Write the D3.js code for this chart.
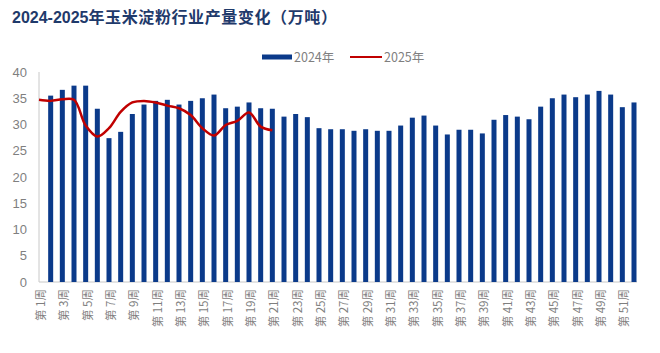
<!DOCTYPE html>
<html>
<head>
<meta charset="utf-8">
<script src="https://cdn.jsdelivr.net/npm/d3@7"></script>
<style>
  body { margin: 0; background: #fff; }
  svg { display: block; font-family: "Microsoft YaHei", "Noto Sans CJK SC", sans-serif; }
</style>
</head>
<body>
<svg width="660" height="353"></svg>
<script>
// weeks 1..52
var weeks = d3.range(1, 53);

// 2024 weekly output (10k t); week 1 has no bar
var y2024 = [null, 35.5, 36.6, 37.4, 37.4, 33.0, 27.4, 28.6, 32.0, 33.8,
  34.5, 34.7, 33.8, 34.5, 35.0, 35.7, 33.1, 33.4, 34.2, 33.1,
  33.0, 31.5, 32.0, 31.4, 29.3, 29.1, 29.1, 28.8, 29.1, 28.8,
  28.8, 29.8, 31.3, 31.7, 29.8, 28.1, 29.0, 29.0, 28.3, 30.9,
  31.8, 31.5, 31.0, 33.4, 35.0, 35.7, 35.2, 35.7, 36.4, 35.7,
  33.3, 34.2];

// 2025 weekly output, weeks 1..21
var y2025 = [34.7, 34.5, 34.8, 34.7, 29.8, 27.7, 29.3, 32.4, 34.2, 34.5,
  34.2, 33.6, 33.1, 31.8, 29.3, 27.9, 29.9, 30.7, 32.3, 29.6, 28.9];

var yTicks = [0, 5, 10, 15, 20, 25, 30, 35, 40];
var seriesNames = ['2024年', '2025年'];

var blue = '#0b3a8a';
var red = '#c00000';
var grey = '#7f7f7f';

var svg = d3.select('svg');

// title
var title = svg.append('text')
  .attr('x', 12)
  .attr('y', 23)
  .attr('fill', '#1f3a6b')
  .style('font-weight', 'bold');
title.append('tspan')
  .style('font-family', '"Liberation Sans", Arial, sans-serif')
  .style('font-size', '16px')
  .text('2024-2025');
title.append('tspan')
  .style('font-size', '16px')
  .style('letter-spacing', '0.6px')
  .text('年玉米淀粉行业产量变化（万吨）');

var x = d3.scalePoint()
  .domain(weeks)
  .range([39, 634]);

var y = d3.scaleLinear()
  .domain([0, 40])
  .range([282, 72]);

// y axis labels
svg.append('g').selectAll('text')
  .data(yTicks)
  .enter().append('text')
  .attr('x', 27)
  .attr('y', function(d) { return y(d); })
  .attr('dy', '0.35em')
  .attr('text-anchor', 'end')
  .attr('fill', grey)
  .style('font-family', '"Liberation Sans", Arial, sans-serif')
  .style('font-size', '13px')
  .text(function(d) { return d; });

// axis lines
svg.append('line')
  .attr('x1', 39).attr('x2', 39)
  .attr('y1', y(40)).attr('y2', y(0))
  .attr('stroke', '#c8c8c8');
svg.append('line')
  .attr('x1', 39).attr('x2', 637)
  .attr('y1', y(0)).attr('y2', y(0))
  .attr('stroke', '#c8c8c8');

// bars
var barW = 5;
svg.append('g').selectAll('rect')
  .data(weeks.filter(function(w) { return y2024[w - 1] != null; }))
  .enter().append('rect')
  .attr('x', function(w) { return x(w) - barW / 2; })
  .attr('width', barW)
  .attr('y', function(w) { return y(y2024[w - 1]); })
  .attr('height', function(w) { return y(0) - y(y2024[w - 1]); })
  .attr('fill', blue);

// 2025 smoothed line
var line = d3.line()
  .x(function(d, i) { return x(weeks[i]); })
  .y(function(d) { return y(d); })
  .curve(d3.curveCatmullRom.alpha(0.5));

svg.append('path')
  .datum(y2025)
  .attr('d', line)
  .attr('fill', 'none')
  .attr('stroke', red)
  .attr('stroke-width', 2.5)
  .attr('stroke-linejoin', 'round');

// x labels, odd weeks, rotated
svg.append('g').selectAll('text')
  .data(weeks.filter(function(w) { return w % 2 === 1; }))
  .enter().append('text')
  .attr('transform', function(w) { return 'translate(' + (x(w) + 1.5) + ',289) rotate(-90)'; })
  .attr('dy', '0.38em')
  .attr('text-anchor', 'end')
  .attr('fill', grey)
  .style('font-size', '11.5px')
  .text(function(w) { return '第 ' + w + '周'; });

// legend
var lg = svg.append('g').attr('transform', 'translate(0,57)');
lg.append('line')
  .attr('x1', 262).attr('x2', 292)
  .attr('stroke', blue).attr('stroke-width', 5);
lg.append('text')
  .attr('x', 294).attr('dy', '0.36em')
  .attr('fill', grey)
  .style('font-size', '12.5px')
  .text(seriesNames[0]);
lg.append('line')
  .attr('x1', 350).attr('x2', 382)
  .attr('stroke', red).attr('stroke-width', 2);
lg.append('text')
  .attr('x', 384).attr('dy', '0.36em')
  .attr('fill', grey)
  .style('font-size', '12.5px')
  .text(seriesNames[1]);
</script>
</body>
</html>
